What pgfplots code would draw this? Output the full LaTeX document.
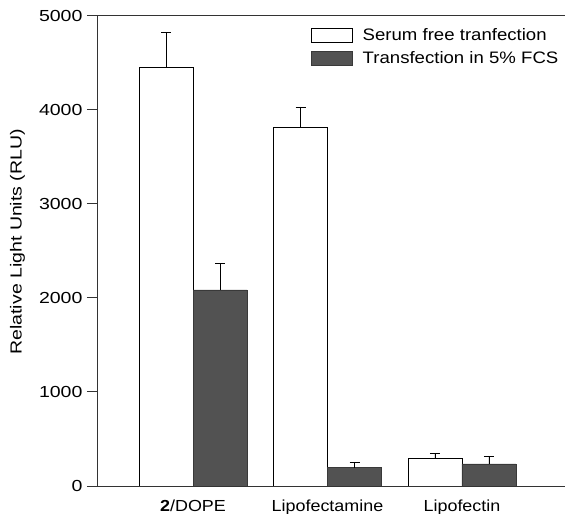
\documentclass[border=0pt]{standalone}
\usepackage{fontspec}
\setmainfont{Liberation Sans}[FakeStretch=1.12]
\newfontfamily\ylabfont{Liberation Sans}[FakeStretch=1.22]
\newfontfamily\tickfont{Liberation Sans}[FakeStretch=1.22]
\usepackage{pgfplots}
\pgfplotsset{compat=1.18}
\definecolor{darkbar}{RGB}{82,82,82}
\begin{document}
\begin{tikzpicture}
\begin{axis}[
  scale only axis,
  width=468pt, height=470.5pt,
  xmin=-0.714, xmax=2.766,
  ymin=0, ymax=5000,
  ybar=0pt, bar width=54pt,
  axis x line=box, axis y line=left,
  axis line style={-, line width=0.8pt, black!80},
  xtick={0,1,2},
  xticklabels={\textbf{2}/DOPE, Lipofectamine, Lipofectin},
  xtick style={draw=none},
  xticklabel style={font=\fontsize{16}{19}\selectfont},
  ytick={0,1000,2000,3000,4000,5000},
  yticklabels={0,1000,2000,3000,4000,5000},
  yticklabel style={font=\tickfont\fontsize{16}{19}\selectfont, xshift=-1pt},
  tick align=outside,
  ytick style={line width=0.8pt, black!80},
  major tick length=10pt,
  every axis y label/.style={at={(axis description cs:-0.17,0.519)}, rotate=90, anchor=center},
  ylabel={\ylabfont\fontsize{16}{19}\selectfont Relative Light Units (RLU)},
  legend style={at={(0.457,0.978)}, anchor=north west, draw=none, fill=none,
    font=\fontsize{16.6}{20}\selectfont, row sep=6pt, inner sep=0pt},
  legend cell align=left,
  legend image code/.code={\draw[#1, line width=0.6pt] (0pt,-7pt) rectangle (41pt,7pt); \path (49pt,0pt);},
  error bars/y dir=plus, error bars/y explicit,
  error bars/error bar style={line width=0.9pt, black},
  error bars/error mark options={rotate=90, mark size=5pt, line width=0.9pt, black},
]
\addplot[fill=white, draw=black, line width=0.7pt] coordinates {
  (0,4453) +- (0,364)
  (1,3815) +- (0,213)
  (2,290)  +- (0,53)
};
\addplot[fill=darkbar, draw=darkbar!70!black, line width=0.7pt] coordinates {
  (0,2083) +- (0,279)
  (1,195)  +- (0,57)
  (2,234)  +- (0,85)
};
\legend{Serum free tranfection, Transfection in 5\% FCS}
\end{axis}
\pgfresetboundingbox
\path[use as bounding box] (-97pt,-28pt) rectangle (468pt,486pt);
\end{tikzpicture}
\end{document}
